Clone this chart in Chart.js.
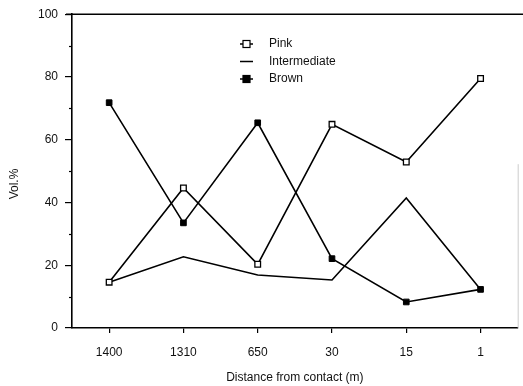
<!DOCTYPE html>
<html>
<head>
<meta charset="utf-8">
<script src="https://cdn.jsdelivr.net/npm/chart.js@4/dist/chart.umd.min.js"></script>
<style>
  html, body { margin: 0; padding: 0; background: #fff; }
  #wrap { width: 523px; height: 386px; position: relative; }
</style>
</head>
<body>
<div id="wrap"><canvas id="myChart"></canvas></div>
<script>
    // distances from contact (m), left to right
    var distances = ["1400", "1310", "650", "30", "15", "1"];
    var pink = [14.6, 44.6, 20.3, 64.9, 52.9, 79.5];
    var intermediate = [14.6, 22.7, 16.9, 15.3, 41.4, 12.3];
    var brown = [71.8, 33.5, 65.4, 22.1, 8.3, 12.3];
    var yTicks = [0, 20, 40, 60, 80, 100];

    var font = "'Liberation Sans', Arial, Helvetica, sans-serif";
    Chart.defaults.font.family = font;
    Chart.defaults.color = "#111";

    var legendItems = [
        { label: "Pink", fill: "#fff", marker: true },
        { label: "Intermediate", fill: null, marker: false },
        { label: "Brown", fill: "#000", marker: true }
    ];

    // frame lines, minor y ticks, y title and the inset legend
    var extras = {
        id: "extras",
        afterDraw: function (chart) {
            var ctx = chart.ctx;
            var a = chart.chartArea;
            var y = chart.scales.y;
            ctx.save();
            ctx.strokeStyle = "#000";
            ctx.lineWidth = 1.5;
            ctx.beginPath();
            ctx.moveTo(a.left - 6, a.top);
            ctx.lineTo(chart.width, a.top);
            ctx.stroke();

            ctx.strokeStyle = "#ccc";
            ctx.lineWidth = 1;
            ctx.beginPath();
            ctx.moveTo(a.right + 0.5, a.top + 150);
            ctx.lineTo(a.right + 0.5, a.bottom);
            ctx.stroke();

            ctx.strokeStyle = "#000";
            ctx.lineWidth = 1.2;
            for (var v = 10; v < 100; v += 20) {
                var py = Math.round(y.getPixelForValue(v)) + 0.5;
                ctx.beginPath();
                ctx.moveTo(a.left - 3, py);
                ctx.lineTo(a.left, py);
                ctx.stroke();
            }

            // y axis title
            ctx.save();
            ctx.translate(15, 184);
            ctx.rotate(-Math.PI / 2);
            ctx.font = "12px " + font;
            ctx.fillStyle = "#111";
            ctx.textAlign = "center";
            ctx.textBaseline = "middle";
            ctx.fillText("Vol.%", 0, 0);
            ctx.restore();

            ctx.font = "12px " + font;
            ctx.textBaseline = "middle";
            ctx.textAlign = "left";
            legendItems.forEach(function (it, i) {
                var ly = 44 + i * 17.5;
                ctx.strokeStyle = "#000";
                ctx.lineWidth = 1.5;
                ctx.beginPath();
                ctx.moveTo(240, ly);
                ctx.lineTo(253, ly);
                ctx.stroke();
                if (it.marker) {
                    ctx.fillStyle = it.fill;
                    ctx.fillRect(243, ly - 3.5, 7, 7);
                    ctx.lineWidth = 1.2;
                    ctx.strokeRect(243, ly - 3.5, 7, 7);
                }
                ctx.fillStyle = "#111";
                ctx.fillText(it.label, 269, ly);
            });
            ctx.restore();
        }
    };

    var ctx = document.getElementById("myChart");
    var myChart = new Chart(ctx, {
        type: "line",
        data: {
            labels: distances,
            datasets: [
                {
                    label: "Pink",
                    data: pink,
                    borderColor: "#000",
                    borderWidth: 1.6,
                    pointStyle: "rect",
                    pointRadius: 4,
                    pointBorderWidth: 1.3,
                    pointBackgroundColor: "#fff",
                    pointBorderColor: "#000",
                    tension: 0
                },
                {
                    label: "Intermediate",
                    data: intermediate,
                    borderColor: "#000",
                    borderWidth: 1.6,
                    pointRadius: 0,
                    tension: 0
                },
                {
                    label: "Brown",
                    data: brown,
                    borderColor: "#000",
                    borderWidth: 1.6,
                    pointStyle: "rect",
                    pointRadius: 4,
                    pointBorderWidth: 1,
                    pointBackgroundColor: "#000",
                    pointBorderColor: "#000",
                    tension: 0
                }
            ]
        },
        options: {
            responsive: true,
            maintainAspectRatio: false,
            animation: false,
            layout: { padding: { top: 14, right: 2, left: 0, bottom: 0 } },
            plugins: {
                legend: { display: false },
                tooltip: { enabled: false }
            },
            scales: {
                x: {
                    offset: true,
                    grid: {
                        display: true,
                        drawOnChartArea: false,
                        drawTicks: true,
                        tickLength: 5,
                        color: "#000",
                        lineWidth: 1.2
                    },
                    border: { display: true, color: "#000", width: 1.6 },
                    ticks: {
                        padding: 12,
                        font: { size: 12 },
                        color: "#111",
                        maxRotation: 0
                    },
                    title: {
                        display: true,
                        text: "Distance from contact (m)",
                        font: { size: 12 },
                        color: "#111",
                        padding: { top: 0, bottom: 1 }
                    },
                    afterFit: function (s) { s.height = 58; }
                },
                y: {
                    min: 0,
                    max: 100,
                    afterBuildTicks: function (s) {
                        s.ticks = yTicks.map(function (v) { return { value: v }; });
                    },
                    grid: {
                        display: true,
                        drawOnChartArea: false,
                        drawTicks: true,
                        tickLength: 7,
                        color: "#000",
                        lineWidth: 1.2
                    },
                    border: { display: true, color: "#000", width: 1.6 },
                    ticks: {
                        padding: 7,
                        font: { size: 12 },
                        color: "#111"
                    },
                    afterFit: function (s) { s.width = 72; }
                }
            }
        },
        plugins: [extras]
    });
</script>
</body>
</html>
